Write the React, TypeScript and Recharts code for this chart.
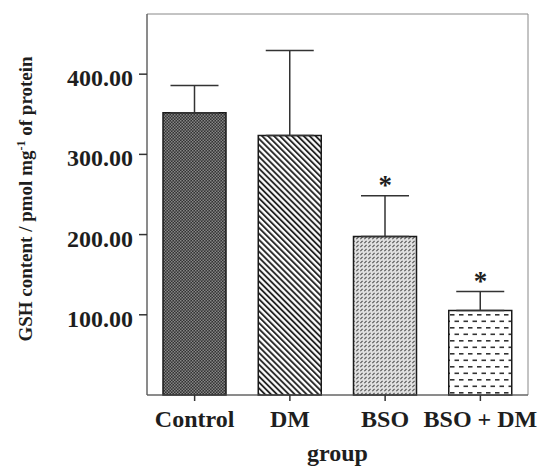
import React from 'react';
import {
    ComposedChart, Bar, Cell, ErrorBar, Scatter, XAxis, YAxis, ReferenceArea
} from 'recharts';

// GSH content per group (pmol mg-1 of protein)
const groups = ['Control', 'DM', 'BSO', 'BSO + DM'];
const means = [352, 323.5, 197.5, 105.5];
const sdUp = [34, 106, 51, 23.5];
const significant = [false, false, true, true];
const yTicks = [100, 200, 300, 400];
const patternIds = ['patControl', 'patDM', 'patBSO', 'patBSODM'];

const FONT = '"Liberation Serif", "Times New Roman", serif';

const data = groups.map((g, i) => ({
    group: g,
    mean: means[i],
    err: [0, sdUp[i]],
    starY: significant[i] ? means[i] + sdUp[i] : null,
}));

const YTick = (props: any) => {
    const { x, y, payload } = props;
    return (
        <text x={x} y={y} dy={12} textAnchor="end" fontFamily={FONT} fontWeight="bold" fontSize={24} fill="#1e1e1e">
            {Number(payload.value).toFixed(2)}
        </text>
    );
};

const XTick = (props: any) => {
    const { x, y, payload } = props;
    return (
        <text x={x} y={y} dy={17} textAnchor="middle" fontFamily={FONT} fontWeight="bold" fontSize={24} fill="#1e1e1e">
            {payload.value}
        </text>
    );
};

// asterisk above the error cap of significant groups
const Star = (props: any) => {
    const { cx, cy, payload } = props;
    if (!payload || payload.starY == null) return null;
    return (
        <text x={cx} y={cy - 2} textAnchor="middle" fontFamily={FONT} fontWeight="bold" fontSize={27} fill="#1e1e1e">
            *
        </text>
    );
};

const YLabel = () => (
    <text x={32} y={199} transform="rotate(-90 32 199)" textAnchor="middle" fontFamily={FONT} fontWeight="bold" fontSize={19} fill="#1e1e1e">
        GSH content / pmol mg
        <tspan fontSize={12} dy={-7}>-1</tspan>
        <tspan dy={7}> of protein</tspan>
    </text>
);

export default function App() {
    return (
        <div style={{ position: 'absolute', left: 0, top: 0, width: 540, height: 468, background: '#fff' }}>
            <ComposedChart width={540} height={468} data={data} margin={{ top: 14, right: 12, left: 0, bottom: 0 }} barSize={63}>
                <defs>
                    <pattern id="patControl" width="3" height="3" patternUnits="userSpaceOnUse">
                        <rect width="3" height="3" fill="#333" />
                        <rect width="1.5" height="1.5" fill="#858585" />
                        <rect x="1.5" y="1.5" width="1.5" height="1.5" fill="#858585" />
                    </pattern>
                    <pattern id="patDM" width="4.2" height="10" patternUnits="userSpaceOnUse" patternTransform="rotate(-45)">
                        <rect width="4.2" height="10" fill="#fff" />
                        <line x1="1" y1="0" x2="1" y2="10" stroke="#1a1a1a" strokeWidth="1.8" />
                    </pattern>
                    <pattern id="patBSO" width="4" height="4" patternUnits="userSpaceOnUse">
                        <rect width="4" height="4" fill="#e0e0e0" />
                        <line x1="0.3" y1="3.2" x2="2.6" y2="0.9" stroke="#555" strokeWidth="1.2" />
                    </pattern>
                    <pattern id="patBSODM" width="9" height="13" patternUnits="userSpaceOnUse">
                        <rect width="9" height="13" fill="#fff" />
                        <rect x="0" y="2" width="4.5" height="1.6" fill="#333" />
                        <rect x="4.5" y="8.5" width="4.5" height="1.6" fill="#333" />
                    </pattern>
                </defs>
                <ReferenceArea y1={0} y2={475} fill="none" stroke="#888" strokeWidth={1} />
                <XAxis
                    dataKey="group"
                    height={73}
                    tick={<XTick />}
                    tickSize={6}
                    tickMargin={9}
                    interval={0}
                    axisLine={{ stroke: '#555' }}
                    tickLine={{ stroke: '#333', strokeWidth: 1.5 }}
                    label={{ value: 'group', position: 'insideBottom', offset: 7, fontFamily: FONT, fontWeight: 'bold', fontSize: 24, fill: '#1e1e1e' }}
                />
                <YAxis
                    type="number"
                    domain={[0, 475]}
                    ticks={yTicks}
                    width={147}
                    tick={<YTick />}
                    tickSize={8}
                    tickMargin={6}
                    axisLine={{ stroke: '#555' }}
                    tickLine={{ stroke: '#333', strokeWidth: 1.5 }}
                    label={<YLabel />}
                />
                <Bar dataKey="mean" stroke="#1a1a1a" strokeWidth={1.5} isAnimationActive={false}>
                    {data.map((d, i) => (
                        <Cell key={d.group} fill={`url(#${patternIds[i]})`} />
                    ))}
                    <ErrorBar dataKey="err" width={24} stroke="#333" strokeWidth={1.5} isAnimationActive={false} />
                </Bar>
                <Scatter dataKey="starY" shape={<Star />} isAnimationActive={false} />
            </ComposedChart>
        </div>
    );
}
